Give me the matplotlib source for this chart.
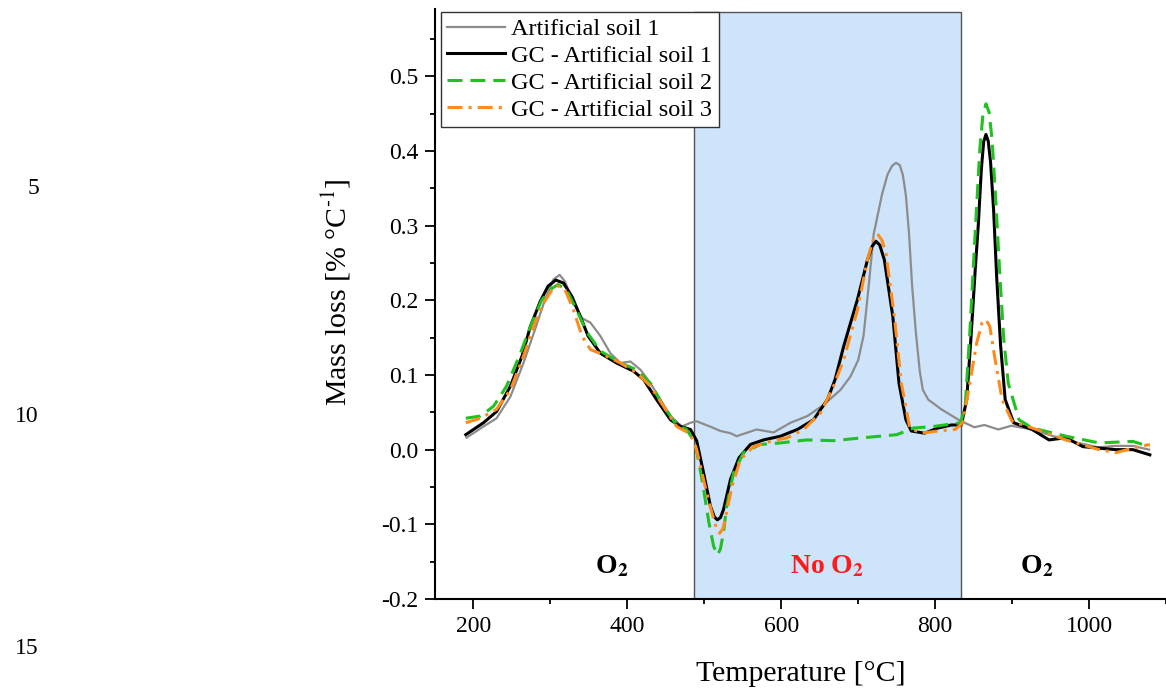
import numpy as np
import matplotlib
matplotlib.use('Agg')
import matplotlib.pyplot as plt
import matplotlib.ticker as ticker

plt.rcParams['font.family'] = ['Liberation Serif', 'DejaVu Serif']
plt.rcParams['mathtext.fontset'] = 'stix'
plt.rcParams['axes.unicode_minus'] = False

# Artificial soil 1 (raw)
t_as1 = [191, 213, 230, 248, 265, 280, 293, 304, 312, 319, 330, 341, 352, 365, 378, 391,
         404, 417, 430, 443, 456, 471, 482, 490, 512, 521, 534, 542, 568, 590, 612, 634,
         655, 677, 690, 700, 707, 714, 720, 731, 738, 744, 749, 754, 758, 762, 766, 770,
         775, 780, 784, 791, 808, 832, 851, 864, 882, 899, 926, 969, 1012, 1034, 1057, 1078]
m_as1 = [0.016, 0.031, 0.042, 0.071, 0.116, 0.161, 0.201, 0.228, 0.234, 0.225, 0.196, 0.176,
         0.170, 0.152, 0.129, 0.116, 0.118, 0.107, 0.089, 0.067, 0.045, 0.031, 0.036, 0.038,
         0.029, 0.025, 0.022, 0.018, 0.027, 0.023, 0.036, 0.045, 0.060, 0.080, 0.098, 0.120,
         0.153, 0.223, 0.288, 0.342, 0.368, 0.380, 0.384, 0.381, 0.368, 0.340, 0.290, 0.220,
         0.156, 0.105, 0.080, 0.067, 0.054, 0.039, 0.030, 0.033, 0.027, 0.032, 0.027, 0.013,
         0.003, 0.005, 0.005, 0.000]

# GC - Artificial soil 1
t_gc1 = [190, 213, 230, 248, 263, 274, 287, 297, 307, 317, 328, 339, 349, 365, 386, 408,
         421, 438, 456, 469, 482, 490, 499, 508, 513, 517, 521, 525, 534, 545, 560, 577, 599,
         621, 642, 660, 670, 681, 699, 712, 718, 723, 728, 734, 745, 753, 762, 769, 786, 804,
         821, 834, 841, 847, 852, 856, 860, 863, 866, 869, 872, 876, 880, 885, 891, 902, 926,
         948, 970, 992, 1013, 1035, 1057, 1079]
m_gc1 = [0.020, 0.036, 0.051, 0.085, 0.125, 0.165, 0.199, 0.219, 0.227, 0.223, 0.205, 0.178,
         0.152, 0.129, 0.116, 0.105, 0.094, 0.067, 0.040, 0.031, 0.027, 0.012, -0.031, -0.076,
         -0.090, -0.094, -0.091, -0.080, -0.040, -0.011, 0.007, 0.013, 0.018, 0.027, 0.040,
         0.067, 0.094, 0.138, 0.201, 0.254, 0.272, 0.279, 0.274, 0.254, 0.178, 0.089, 0.040,
         0.025, 0.022, 0.029, 0.033, 0.033, 0.067, 0.157, 0.240, 0.300, 0.375, 0.412, 0.422,
         0.413, 0.385, 0.320, 0.230, 0.140, 0.067, 0.036, 0.027, 0.013, 0.016, 0.004, 0.002,
         0.000, 0.000, -0.007]

# GC - Artificial soil 2
t_gc2 = [190, 209, 226, 243, 261, 274, 289, 302, 310, 321, 334, 347, 365, 391, 412, 430,
         447, 464, 477, 488, 497, 506, 512, 517, 521, 525, 529, 538, 551, 573, 599, 633, 668,
         707, 750, 772, 798, 833, 839, 845, 852, 858, 862, 866, 870, 874, 879, 884, 889, 895,
         909, 926, 970, 1013, 1057, 1079]
m_gc2 = [0.042, 0.045, 0.058, 0.085, 0.129, 0.165, 0.201, 0.216, 0.221, 0.214, 0.187, 0.158,
         0.132, 0.116, 0.107, 0.089, 0.058, 0.033, 0.027, 0.009, -0.040, -0.098, -0.129,
         -0.141, -0.133, -0.110, -0.076, -0.031, -0.004, 0.007, 0.009, 0.013, 0.012, 0.016,
         0.020, 0.029, 0.031, 0.036, 0.058, 0.156, 0.290, 0.402, 0.448, 0.463, 0.452, 0.415,
         0.330, 0.235, 0.150, 0.089, 0.040, 0.029, 0.018, 0.009, 0.011, 0.004]

# GC - Artificial soil 3
t_gc3 = [190, 209, 230, 248, 265, 278, 291, 302, 310, 319, 330, 341, 352, 369, 391, 412,
         430, 447, 464, 482, 490, 501, 510, 516, 520, 524, 527, 536, 547, 564, 586, 608, 629,
         651, 668, 681, 699, 712, 719, 725, 731, 736, 747, 756, 767, 782, 804, 826, 836, 845,
         854, 861, 866, 871, 878, 887, 900, 926, 970, 1013, 1035, 1057, 1079]
m_gc3 = [0.036, 0.042, 0.054, 0.080, 0.125, 0.165, 0.196, 0.214, 0.219, 0.214, 0.187, 0.152,
         0.134, 0.127, 0.116, 0.103, 0.085, 0.058, 0.031, 0.021, 0.000, -0.049, -0.085,
         -0.106, -0.112, -0.106, -0.094, -0.049, -0.013, 0.004, 0.011, 0.016, 0.027, 0.049,
         0.085, 0.120, 0.187, 0.254, 0.280, 0.289, 0.280, 0.263, 0.178, 0.089, 0.029, 0.022,
         0.025, 0.027, 0.036, 0.089, 0.143, 0.170, 0.174, 0.165, 0.120, 0.067, 0.038, 0.029,
         0.013, 0.000, -0.004, 0.002, 0.007]

no_o2_start, no_o2_end = 487, 834

fig = plt.figure(figsize=(11.66, 6.98), dpi=100)
ax = fig.add_axes([435 / 1166, 1 - 599 / 698, 731 / 1166, 590 / 698])

# shaded "No O2" zone
ax.axvspan(no_o2_start, no_o2_end, ymin=0, ymax=0.995, facecolor='#cde4fb',
           edgecolor='#555555', linewidth=1.0, zorder=0)

ax.plot(t_as1, m_as1, color='#8c8c8c', lw=1.6, label='Artificial soil 1', zorder=2)
ax.plot(t_gc1, m_gc1, color='black', lw=2.2, label='GC - Artificial soil 1', zorder=3)
ax.plot(t_gc2, m_gc2, color='#22c022', lw=2.2, dashes=(4.9, 2.6),
        label='GC - Artificial soil 2', zorder=4)
ax.plot(t_gc3, m_gc3, color='#ff8c1a', lw=2.2, dashes=(4.9, 2.0, 1.0, 2.0),
        label='GC - Artificial soil 3', zorder=5)

ax.set_xlim(150, 1100)
ax.set_ylim(-0.2, 0.59)
ax.xaxis.set_major_locator(ticker.FixedLocator([200, 400, 600, 800, 1000]))
ax.xaxis.set_minor_locator(ticker.MultipleLocator(100))
ax.yaxis.set_major_locator(ticker.FixedLocator([-0.2, -0.1, 0.0, 0.1, 0.2, 0.3, 0.4, 0.5]))
ax.yaxis.set_major_formatter(ticker.FormatStrFormatter('%.1f'))
ax.yaxis.set_minor_locator(ticker.MultipleLocator(0.05))

for s in ['top', 'right']:
    ax.spines[s].set_visible(False)
for s in ['left', 'bottom']:
    ax.spines[s].set_linewidth(1.5)
ax.tick_params(which='major', direction='out', length=7, width=1.3, labelsize=17, pad=5)
ax.tick_params(which='minor', direction='out', length=3.6, width=1.3)

ax.set_xlabel('Temperature [°C]', fontsize=21.5)
ax.set_ylabel(r'Mass loss [% °C$^{\text{-1}}$]', fontsize=21.5)
ax.xaxis.set_label_coords(0.5, -0.105)
ax.yaxis.set_label_coords(-0.112, 0.52)

ax.text(380, -0.157, r'O$_\mathbf{2}$', fontsize=20, fontweight='bold',
        ha='center', va='center')
ax.text(660, -0.157, r'No O$_\mathbf{2}$', fontsize=20, fontweight='bold',
        color='#ff1a1a', ha='center', va='center')
ax.text(932, -0.157, r'O$_\mathbf{2}$', fontsize=20, fontweight='bold',
        ha='center', va='center')

leg = ax.legend(loc='upper left', bbox_to_anchor=(0.008, 0.995), borderaxespad=0,
                fontsize=17.5, handlelength=2.4, handletextpad=0.25, labelspacing=0.2,
                borderpad=0.25, fancybox=False, framealpha=1)
leg.get_frame().set_edgecolor('#333333')
leg.get_frame().set_linewidth(1.0)

# page line numbers on the left margin
for txt, yy in [('5', 188), ('10', 417), ('15', 648)]:
    fig.text(39 / 1166, 1 - yy / 698, txt, fontsize=17, ha='right', va='center')

fig.savefig('out.png', dpi=100)
